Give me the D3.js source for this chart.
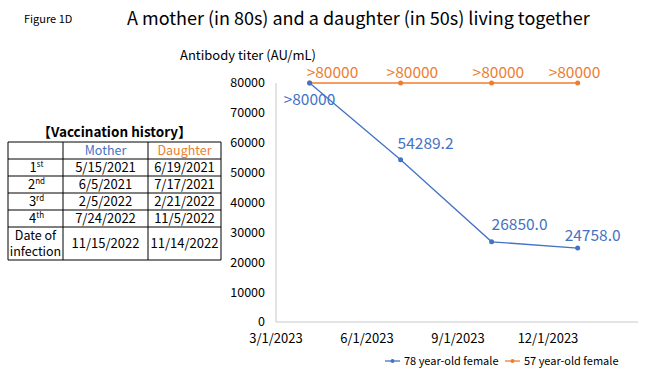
<!DOCTYPE html>
<html>
<head>
<meta charset="utf-8">
<script src="https://cdn.jsdelivr.net/npm/d3@7"></script>
<style>
  body { margin: 0; background: #fff; }
  svg { font-family: "Noto Sans CJK JP", "Noto Sans", sans-serif; }
</style>
</head>
<body>
<div id="chart"></div>
<script>
let width = 646,
    height = 374,
    margin = ({ top: 83, right: 8, bottom: 52, left: 276 });

// data
const dates = ["2023-04-04", "2023-07-05", "2023-10-05", "2023-12-31"];
const mother = [80000, 54289.2, 26850.0, 24758.0];
const motherLabels = [">80000", "54289.2", "26850.0", "24758.0"];
const daughter = [80000, 80000, 80000, 80000];
const daughterLabels = [">80000", ">80000", ">80000", ">80000"];
const yTicks = [0, 10000, 20000, 30000, 40000, 50000, 60000, 70000, 80000];
const xTicks = ["2023-03-01", "2023-06-01", "2023-09-01", "2023-12-01"];
const seriesNames = ["78 year-old female", "57 year-old female"];

const tableHead = ["", "Mother", "Daughter"];
const doseNo = ["1", "2", "3", "4"];
const doseSup = ["st", "nd", "rd", "th"];
const motherDoses = ["5/15/2021", "6/5/2021", "2/5/2022", "7/24/2022"];
const daughterDoses = ["6/19/2021", "7/17/2021", "2/21/2022", "11/5/2022"];
const infection = ["11/15/2022", "11/14/2022"];

const blue = "#4472c4", orange = "#ed7d31";
const parse = d3.timeParse("%Y-%m-%d");

const svg = d3.select("#chart")
  .append("svg")
  .attr("width", width)
  .attr("height", height);

// titles
svg.append("text").attr("x", 24).attr("y", 23)
  .attr("font-size", 11).text("Figure 1D");
svg.append("text").attr("x", 127).attr("y", 25)
  .attr("font-size", 18).text("A mother (in 80s) and a daughter (in 50s) living together");
svg.append("text").attr("x", 180).attr("y", 60)
  .attr("font-size", 13).text("Antibody titer (AU/mL)");

let x = d3.scaleTime()
  .domain([parse("2023-03-01"), parse("2024-03-01")])
  .range([margin.left, width - margin.right]);

let y = d3.scaleLinear()
  .domain([0, 80000])
  .range([322, margin.top]);

// axes
svg.append("line")
  .attr("x1", margin.left).attr("x2", margin.left)
  .attr("y1", y(0)).attr("y2", y(80000))
  .attr("stroke", "#c8c8c8");
svg.append("line")
  .attr("x1", margin.left).attr("x2", width - margin.right)
  .attr("y1", y(0)).attr("y2", y(0))
  .attr("stroke", "#c8c8c8");

svg.append("g")
  .selectAll("text")
  .data(yTicks)
  .join("text")
  .attr("x", margin.left - 11)
  .attr("y", d => y(d))
  .attr("dy", "0.35em")
  .attr("text-anchor", "end")
  .attr("font-size", 12.5)
  .text(d => d);

svg.append("g")
  .selectAll("text")
  .data(xTicks)
  .join("text")
  .attr("x", d => x(parse(d)))
  .attr("y", 343)
  .attr("text-anchor", "middle")
  .attr("font-size", 13)
  .text(d => d3.timeFormat("%-m/%-d/%Y")(parse(d)));

// series
const line = d3.line().x(d => x(d.date)).y(d => y(d.v));
const series = [
  { color: orange, values: daughter, labels: daughterLabels,
    dx: [-3, -14, -19, -29], dy: [-5, -5, -5, -5] },
  { color: blue, values: mother, labels: motherLabels,
    dx: [-26, -3, 0, -13], dy: [22, -11, -12, -7] }
];

for (let s of series) {
  const pts = dates.map((d, i) => ({ date: parse(d), v: s.values[i], label: s.labels[i] }));
  svg.append("path")
    .datum(pts)
    .attr("fill", "none")
    .attr("stroke", s.color)
    .attr("stroke-width", 1.3)
    .attr("d", line);
  svg.append("g")
    .selectAll("circle")
    .data(pts)
    .join("circle")
    .attr("cx", d => x(d.date))
    .attr("cy", d => y(d.v))
    .attr("r", 2.5)
    .attr("fill", s.color);
  svg.append("g")
    .selectAll("text")
    .data(pts)
    .join("text")
    .attr("x", (d, i) => x(d.date) + s.dx[i])
    .attr("y", (d, i) => y(d.v) + s.dy[i])
    .attr("font-size", 15.5)
    .attr("fill", s.color)
    .text(d => d.label);
}

// legend
const legend = svg.append("g").attr("font-size", 11);
[[385, blue], [505, orange]].forEach(([lx, c], i) => {
  legend.append("line").attr("x1", lx).attr("x2", lx + 15)
    .attr("y1", 361).attr("y2", 361).attr("stroke", c).attr("stroke-width", 1.3);
  legend.append("circle").attr("cx", lx + 7.5).attr("cy", 361).attr("r", 2).attr("fill", c);
  legend.append("text").attr("x", lx + 19).attr("y", 361).attr("dy", "0.35em")
    .text(seriesNames[i]);
});

// vaccination table
const cols = [8, 63, 148, 221];
const rows = [142, 159, 176, 193, 210, 227, 260];
const tbl = svg.append("g").attr("font-size", 13);

tbl.append("text").attr("x", (cols[0] + cols[3]) / 2).attr("y", 132)
  .attr("dy", "0.35em").attr("text-anchor", "middle")
  .attr("font-size", 13.5).attr("font-weight", "bold")
  .text("【Vaccination history】");

rows.forEach(r => tbl.append("line").attr("x1", cols[0]).attr("x2", cols[3])
  .attr("y1", r).attr("y2", r).attr("stroke", "#000"));
cols.forEach(c => tbl.append("line").attr("x1", c).attr("x2", c)
  .attr("y1", rows[0]).attr("y2", rows[rows.length - 1]).attr("stroke", "#000"));

const mid = (a, b) => (a + b) / 2;
tbl.append("text").attr("x", mid(cols[1], cols[2])).attr("y", mid(rows[0], rows[1]))
  .attr("dy", "0.35em").attr("text-anchor", "middle").attr("font-size", 12.5)
  .attr("fill", blue).text(tableHead[1]);
tbl.append("text").attr("x", mid(cols[2], cols[3])).attr("y", mid(rows[0], rows[1]))
  .attr("dy", "0.35em").attr("text-anchor", "middle").attr("font-size", 12.5)
  .attr("fill", orange).text(tableHead[2]);

doseNo.forEach((n, i) => {
  const cy = mid(rows[i + 1], rows[i + 2]);
  const t = tbl.append("text").attr("x", mid(cols[0], cols[1]) + 1).attr("y", cy)
    .attr("dy", "0.35em").attr("text-anchor", "middle");
  t.append("tspan").text(n);
  t.append("tspan").attr("font-size", 8).attr("dy", "-0.6em").text(doseSup[i]);
  tbl.append("text").attr("x", mid(cols[1], cols[2])).attr("y", cy)
    .attr("dy", "0.35em").attr("text-anchor", "middle").text(motherDoses[i]);
  tbl.append("text").attr("x", mid(cols[2], cols[3])).attr("y", cy)
    .attr("dy", "0.35em").attr("text-anchor", "middle").text(daughterDoses[i]);
});

const iy = mid(rows[5], rows[6]);
tbl.append("text").attr("x", mid(cols[0], cols[1])).attr("y", iy - 8)
  .attr("dy", "0.35em").attr("text-anchor", "middle").attr("font-size", 12.5).text("Date of");
tbl.append("text").attr("x", mid(cols[0], cols[1])).attr("y", iy + 8)
  .attr("dy", "0.35em").attr("text-anchor", "middle").attr("font-size", 12.5).text("infection");
tbl.append("text").attr("x", mid(cols[1], cols[2])).attr("y", iy)
  .attr("dy", "0.35em").attr("text-anchor", "middle").text(infection[0]);
tbl.append("text").attr("x", mid(cols[2], cols[3])).attr("y", iy)
  .attr("dy", "0.35em").attr("text-anchor", "middle").text(infection[1]);
</script>
</body>
</html>
